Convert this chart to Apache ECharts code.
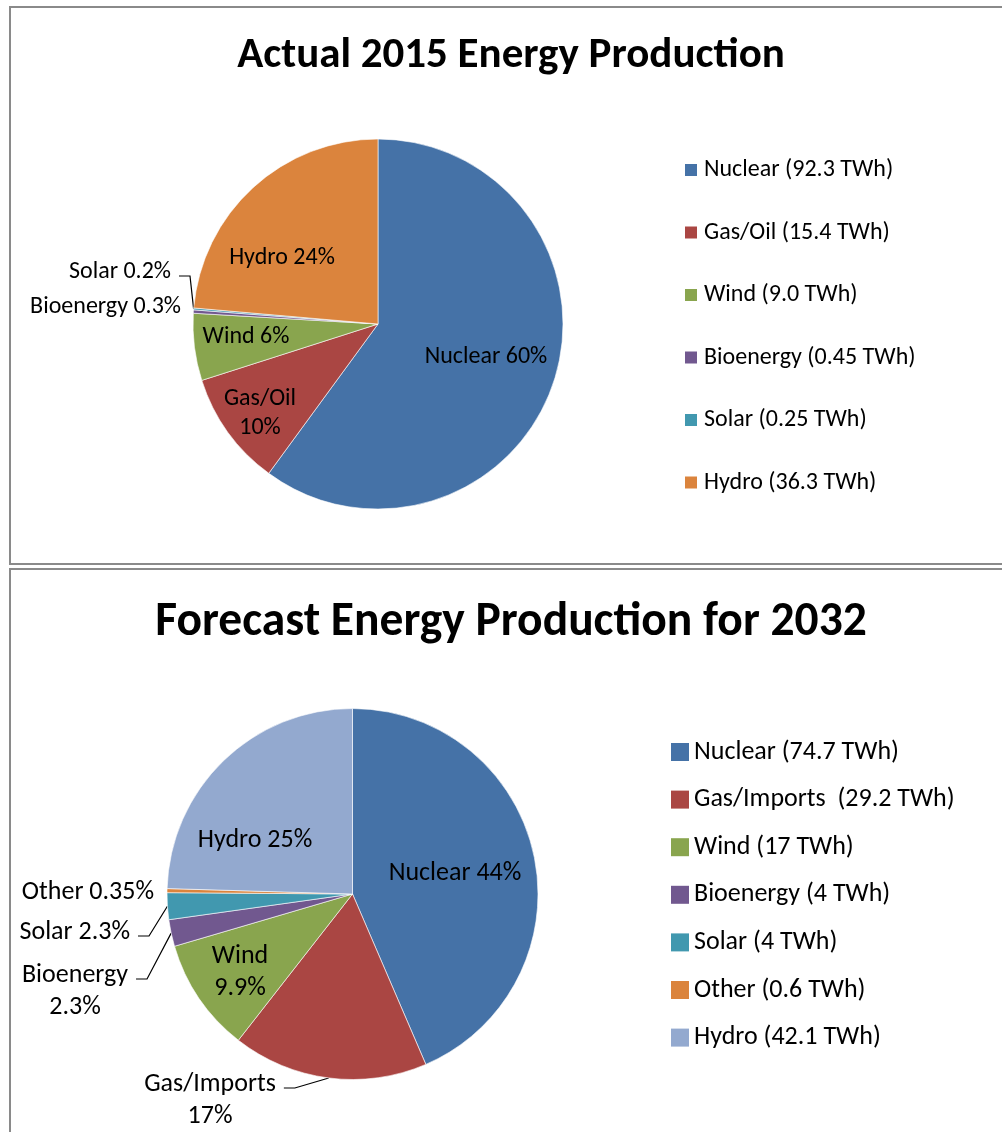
<!DOCTYPE html>
<html>
<head>
<meta charset="utf-8">
<title>Energy Production</title>
<script src="https://cdn.jsdelivr.net/npm/echarts@6/dist/echarts.min.js"></script>
<style>
  html, body { margin: 0; padding: 0; width: 1002px; height: 1132px; overflow: hidden; background: #fff; }
  .chart { position: absolute; left: 0; width: 1022px; }
  .frame { position: absolute; box-sizing: border-box; border: 2px solid #8a8a8a; pointer-events: none; }
</style>
</head>
<body>
<div id="actual" class="chart" style="top:0;height:567px"></div>
<div id="forecast" class="chart" style="top:567px;height:565px"></div>
<div class="frame" style="left:9px;top:6px;width:1012px;height:559px"></div>
<div class="frame" style="left:9px;top:568px;width:1012px;height:600px"></div>
<script>
// ---- 2015 actual production (TWh) ----
const actualSources = ['Nuclear', 'Gas/Oil', 'Wind', 'Bioenergy', 'Solar', 'Hydro'];
const actualTWh = [92.3, 15.4, 9.0, 0.45, 0.25, 36.3];
const actualTWhDigits = [1, 1, 1, 2, 2, 1];
const actualPctDigits = [0, 0, 0, 1, 1, 0];

// ---- 2032 forecast production (TWh) ----
const forecastSources = ['Nuclear', 'Gas/Imports ', 'Wind', 'Bioenergy', 'Solar', 'Other', 'Hydro'];
const forecastTWh = [74.7, 29.2, 17, 4, 4, 0.6, 42.1];
const forecastTWhDigits = [1, 1, 0, 0, 0, 1, 1];
const forecastPctDigits = [0, 0, 1, 1, 1, 2, 0];

// ---- styling ----
const FONT = 'Carlito, Lato, sans-serif';
const actualColors = ['#4572A7', '#AA4643', '#89A54E', '#71588F', '#4198AF', '#DB843D'];
const forecastColors = ['#4572A7', '#AA4643', '#89A54E', '#71588F', '#4198AF', '#DB843D', '#93A9CF'];

// where each slice label sits (label anchor), and whether it needs a leader line
const actualLabelSpots = [
  { x: 486, y: 357 },
  { x: 260, y: 413, wrap: true },
  { x: 246, y: 337 },
  { x: 181, y: 307, align: 'right' },
  { x: 171, y: 272, align: 'right', leader: true },
  { x: 282, y: 258 }
];
const forecastLabelSpots = [
  { x: 455, y: 306 },
  { x: 210, y: 533, wrap: true, leader: true },
  { x: 240, y: 405, wrap: true },
  { x: 75, y: 424, wrap: true, leader: true },
  { x: 130, y: 365, align: 'right', leader: true },
  { x: 154, y: 325, align: 'right' },
  { x: 255, y: 273 }
];

function sum(arr) { return arr.reduce((a, b) => a + b, 0); }

function pctText(values, digits, spots) {
  const total = sum(values);
  return function (p) {
    const pct = (p.value / total * 100).toFixed(digits[p.dataIndex]);
    const sep = spots[p.dataIndex].wrap ? '\n' : ' ';
    return p.name.trim() + sep + pct + '%';
  };
}

// Places labels and draws Excel-style leaders: short horizontal run next to
// the text, then a straight segment to the slice edge.
function spotLayout(spots, gap, run, drop) {
  return function (p) {
    const s = spots[p.dataIndex];
    const align = s.align || 'center';
    const out = { x: s.x, y: s.y, align: align, verticalAlign: 'middle' };
    if (s.leader && p.labelLinePoints && p.labelLinePoints.length) {
      const w = p.labelRect.width, h = p.labelRect.height;
      const right = align === 'right' ? s.x : s.x + w / 2;
      const lines = String(p.text).split('\n').length;
      const yLine = s.y - h / 2 + h / lines / 2 + drop;
      const x0 = right + gap;
      out.labelLinePoints = [[x0, yLine], [x0 + run, yLine], p.labelLinePoints[0]];
    }
    return out;
  };
}

function buildData(names, values, colors, spots) {
  return names.map((n, i) => ({
    name: n,
    value: values[i],
    itemStyle: { color: colors[i] },
    label: { position: spots[i].leader ? 'outside' : 'inside' },
    labelLine: { show: !!spots[i].leader }
  }));
}

function legendText(names, values, digits) {
  return function (name) {
    const i = names.indexOf(name);
    return name + ' (' + values[i].toFixed(digits[i]) + ' TWh)';
  };
}

function pieOption(cfg) {
  const titleLine = Math.round(cfg.titleSize * 1.2);
  return {
    animation: false,
    title: {
      text: cfg.title,
      left: 'center',
      top: cfg.titleMid - titleLine / 2,
      padding: 0,
      textStyle: {
        fontFamily: FONT, fontWeight: 'bold', fontSize: cfg.titleSize,
        lineHeight: titleLine, color: '#000'
      }
    },
    legend: {
      orient: 'vertical',
      left: cfg.legendLeft,
      top: cfg.legendTop,
      padding: 0,
      icon: 'rect',
      itemWidth: cfg.legendIcon,
      itemHeight: cfg.legendIcon,
      itemGap: cfg.legendGap,
      selectedMode: false,
      itemStyle: { borderWidth: 0 },
      textStyle: {
        fontFamily: FONT, fontSize: cfg.legendFont, lineHeight: cfg.legendLine,
        color: '#000', padding: [0, 0, 0, cfg.legendPad]
      },
      formatter: legendText(cfg.names, cfg.values, cfg.twhDigits),
      data: cfg.names
    },
    series: [{
      type: 'pie',
      center: cfg.center,
      radius: cfg.radius,
      startAngle: 90,
      clockwise: true,
      avoidLabelOverlap: false,
      silent: true,
      itemStyle: { borderColor: '#ffffff', borderWidth: 0.6 },
      label: {
        show: true,
        color: '#000',
        fontFamily: FONT,
        fontSize: cfg.labelFont,
        lineHeight: cfg.labelLine,
        formatter: pctText(cfg.values, cfg.pctDigits, cfg.spots)
      },
      labelLine: { length: 6, length2: 0, lineStyle: { color: '#000', width: 1.2 } },
      labelLayout: spotLayout(cfg.spots, 8, 11, 4),
      data: buildData(cfg.names, cfg.values, cfg.colors, cfg.spots)
    }]
  };
}

const actualChart = echarts.init(document.getElementById('actual'), null, { renderer: 'canvas' });
actualChart.setOption(pieOption({
  title: 'Actual 2015 Energy Production',
  titleMid: 56, titleSize: 43,
  names: actualSources, values: actualTWh, twhDigits: actualTWhDigits, pctDigits: actualPctDigits,
  colors: actualColors, spots: actualLabelSpots,
  center: [378, 324], radius: 185,
  labelFont: 24, labelLine: 29,
  legendLeft: 685, legendTop: 157, legendIcon: 12, legendGap: 36.5,
  legendFont: 24, legendLine: 26, legendPad: 2
}));

const forecastChart = echarts.init(document.getElementById('forecast'), null, { renderer: 'canvas' });
forecastChart.setOption(pieOption({
  title: 'Forecast Energy Production for 2032',
  titleMid: 56, titleSize: 47.5,
  names: forecastSources, values: forecastTWh, twhDigits: forecastTWhDigits, pctDigits: forecastPctDigits,
  colors: forecastColors, spots: forecastLabelSpots,
  center: [352.5, 327], radius: 185.5,
  labelFont: 26, labelLine: 32,
  legendLeft: 671, legendTop: 171, legendIcon: 18, legendGap: 19.6,
  legendFont: 26, legendLine: 28, legendPad: 0
}));
</script>
</body>
</html>
